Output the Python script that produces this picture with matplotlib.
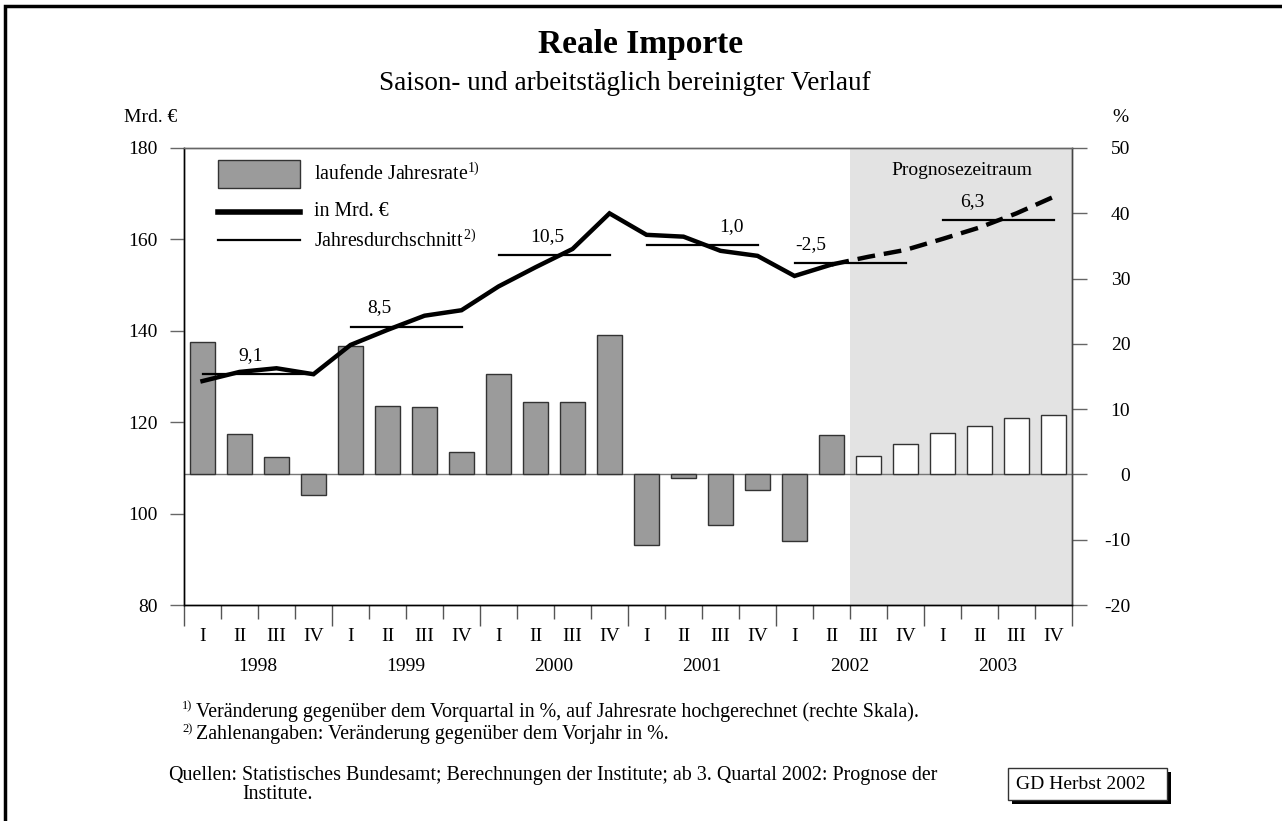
import matplotlib
matplotlib.use("Agg")
import matplotlib.pyplot as plt
from matplotlib.patches import Rectangle
from matplotlib.lines import Line2D
import matplotlib.transforms as mtransforms
import numpy as np

plt.rcParams['font.family'] = ['Liberation Serif', 'DejaVu Serif']
plt.rcParams['mathtext.fontset'] = 'custom'
plt.rcParams['mathtext.rm'] = 'Liberation Serif'
plt.rcParams['mathtext.it'] = 'Liberation Serif'

# ---------------- data ----------------
years = ["1998", "1999", "2000", "2001", "2002", "2003"]
quarters = ["I", "II", "III", "IV"]

# laufende Jahresrate (%, right scale)
rate_actual = [20.3, 6.2, 2.6, -3.2, 19.6, 10.5, 10.3, 3.5,
               15.4, 11.1, 11.1, 21.4, -10.8, -0.6, -7.8, -2.4,
               -10.2, 6.1]
rate_forecast = [2.8, 4.6, 6.3, 7.4, 8.6, 9.1]

# in Mrd. EUR (left scale)
level_actual = [129.0, 131.0, 131.8, 130.5, 136.9, 140.2, 143.3, 144.5,
                149.7, 153.9, 157.9, 165.7, 161.0, 160.6, 157.5, 156.4,
                152.0, 154.5]
level_forecast = [154.5, 156.2, 157.7, 160.1, 162.6, 165.7, 169.3]

# Jahresdurchschnitt (Mrd. EUR) and change vs previous year (%)
annual_avg = [130.5, 140.9, 156.6, 158.7, 154.8, 164.2]
annual_change = ["9,1", "8,5", "10,5", "1,0", "-2,5", "6,3"]

left_ticks = [80, 100, 120, 140, 160, 180]
right_ticks = [-20, -10, 0, 10, 20, 30, 40, 50]

# ---------------- figure ----------------
W, H = 1282, 821
fig = plt.figure(figsize=(W / 100, H / 100), dpi=100)
ax_l, ax_r, ax_b, ax_t = 184, 1072, 605, 148
ax2 = fig.add_axes([ax_l / W, 1 - ax_b / H, (ax_r - ax_l) / W, (ax_b - ax_t) / H])
ax = ax2.twinx()
ax.yaxis.tick_left()
ax.yaxis.set_label_position("left")
ax2.yaxis.tick_right()
ax2.yaxis.set_label_position("right")

n = len(years) * 4
x = np.arange(n)
n_act = len(rate_actual)

ax2.set_xlim(-0.5, n - 0.5)
ax2.set_ylim(-20, 50)
ax.set_ylim(80, 180)

# forecast shading
ax2.axvspan(n_act - 0.5, n - 0.5, color="#e3e3e3", lw=0, zorder=0)

# bars
bw = 0.68
ax2.bar(x[:n_act], rate_actual, width=bw, color="#9b9b9b", edgecolor="#333333", lw=1.0, zorder=2)
ax2.bar(x[n_act:], rate_forecast, width=bw, color="white", edgecolor="#333333", lw=1.0, zorder=2)
ax2.axhline(0, color="#777777", lw=1.0, zorder=1.5)

# level line
ax.plot(x[:n_act], level_actual, color="black", lw=3.2, solid_joinstyle="miter", zorder=4)
ax.plot(x[n_act - 1:], level_forecast, color="black", lw=3.2, linestyle=(0, (4, 2)), zorder=4)

# annual averages + labels
label_pos = [1.31, 4.77, 9.31, 14.3, 16.45, 20.8]
for i, (v, lab) in enumerate(zip(annual_avg, annual_change)):
    ax.plot([4 * i, 4 * i + 3], [v, v], color="black", lw=1.6, zorder=3)
    ax.annotate(lab, xy=(label_pos[i], v), xytext=(0, 13.5), textcoords="offset points",
                ha="center", va="center", fontsize=14, zorder=5)

ax.text(20.53, 0.95, "Prognosezeitraum",
        transform=mtransforms.blended_transform_factory(ax.transData, ax.transAxes),
        ha="center", va="center", fontsize=14)

# ---------------- axes styling ----------------
ax.patch.set_visible(False)
for a in (ax, ax2):
    a.spines["top"].set_color("#666666")
    a.spines["bottom"].set_color("black")
    a.spines["left"].set_color("black")
    a.spines["right"].set_color("#444444")
    for s in a.spines.values():
        s.set_linewidth(1.0)

ax.set_yticks(left_ticks)
ax.set_yticklabels([str(t) for t in left_ticks])
ax.tick_params(axis="y", direction="out", length=10, width=1.0, color="#666666", pad=9, labelsize=14)
ax2.set_yticks(right_ticks)
ax2.set_yticklabels([str(t) for t in right_ticks])
ax2.tick_params(axis="y", direction="out", length=11, width=1.0, color="#666666", pad=31, labelsize=14)
for lbl in ax2.get_yticklabels():
    lbl.set_horizontalalignment("right")

ax.set_xticks([])
ax2.set_xticks(np.arange(-0.5, n, 4))
ax2.set_xticklabels([])
ax2.set_xticks(np.arange(-0.5, n + 0.5, 1), minor=True)
ax2.tick_params(axis="x", which="major", direction="out", length=15, width=1.0, color="#555555")
ax2.tick_params(axis="x", which="minor", direction="out", length=10, width=1.0, color="#555555")

tr = mtransforms.blended_transform_factory(ax2.transData, ax2.transAxes)
for i in range(n):
    ax2.text(x[i], -0.070, quarters[i % 4], transform=tr, ha="center", va="center", fontsize=14)
for j, y in enumerate(years):
    ax2.text(4 * j + 1.5, -0.1335, y, transform=tr, ha="center", va="center", fontsize=14)

# ---------------- legend (manual) ----------------
def axf(px, py):
    return ((px - ax_l) / (ax_r - ax_l), (ax_b - py) / (ax_b - ax_t))

x0, y0 = axf(218, 188)
x1, y1 = axf(300, 160)
ax.add_patch(Rectangle((x0, y0), x1 - x0, y1 - y0, transform=ax.transAxes,
                       facecolor="#9b9b9b", edgecolor="#333333", lw=1.0, zorder=5))
for py, lw in ((212, 4.0), (240, 1.6)):
    xa, ya = axf(218, py)
    xb, _ = axf(300, py)
    ax.add_line(Line2D([xa, xb], [ya, ya], transform=ax.transAxes, color="black", lw=lw, zorder=5))
legend_texts = [r"laufende Jahresrate$^{\mathrm{1)}}$", "in Mrd. €", r"Jahresdurchschnitt$^{\,\mathrm{2)}}$"]
for py, t in zip((174, 212, 241), legend_texts):
    xa, ya = axf(314, py)
    ax.text(xa, ya, t, transform=ax.transAxes, ha="left", va="center", fontsize=14.3, zorder=5)

# ---------------- figure texts ----------------
def ft(px, py, s, **kw):
    fig.text(px / W, 1 - py / H, s, **kw)

ft(641, 45, "Reale Importe", ha="center", va="center", fontsize=24, fontweight="bold")
ft(625, 84, "Saison- und arbeitstäglich bereinigter Verlauf", ha="center", va="center", fontsize=19.5)
ft(151, 118, "Mrd. €", ha="center", va="center", fontsize=14)
ft(1120, 118, "%", ha="center", va="center", fontsize=14)

fs_note = 14.4
ft(182, 706, "1)", ha="left", va="center", fontsize=9)
ft(196, 712, "Veränderung gegenüber dem Vorquartal in %, auf Jahresrate hochgerechnet (rechte Skala).",
   ha="left", va="center", fontsize=fs_note)
ft(182, 729, "2)", ha="left", va="center", fontsize=9)
ft(196, 735, "Zahlenangaben: Veränderung gegenüber dem Vorjahr in %.",
   ha="left", va="center", fontsize=fs_note)
ft(168, 775, "Quellen:", ha="left", va="center", fontsize=fs_note)
ft(242, 775, "Statistisches Bundesamt; Berechnungen der Institute; ab 3. Quartal 2002: Prognose der",
   ha="left", va="center", fontsize=fs_note)
ft(242, 794, "Institute.", ha="left", va="center", fontsize=fs_note)

# GD Herbst box with shadow
bx0, by0, bx1, by1 = 1008, 768, 1167, 800
fig.patches.append(Rectangle(((bx0 + 4) / W, 1 - (by1 + 4) / H), (bx1 - bx0) / W, (by1 - by0) / H,
                             transform=fig.transFigure, facecolor="black", edgecolor="black", lw=0))
fig.patches.append(Rectangle((bx0 / W, 1 - by1 / H), (bx1 - bx0) / W, (by1 - by0) / H,
                             transform=fig.transFigure, facecolor="white", edgecolor="#333333", lw=1.0))
ft(1016, 784, "GD Herbst 2002", ha="left", va="center", fontsize=14)

# outer frame (top and left)
fig.add_artist(Line2D([5 / W, 5 / W, 1.0], [0.0, 1 - 6 / H, 1 - 6 / H], transform=fig.transFigure,
                      color="black", lw=2.5, solid_joinstyle="miter"))

fig.savefig("out.png", dpi=100)
